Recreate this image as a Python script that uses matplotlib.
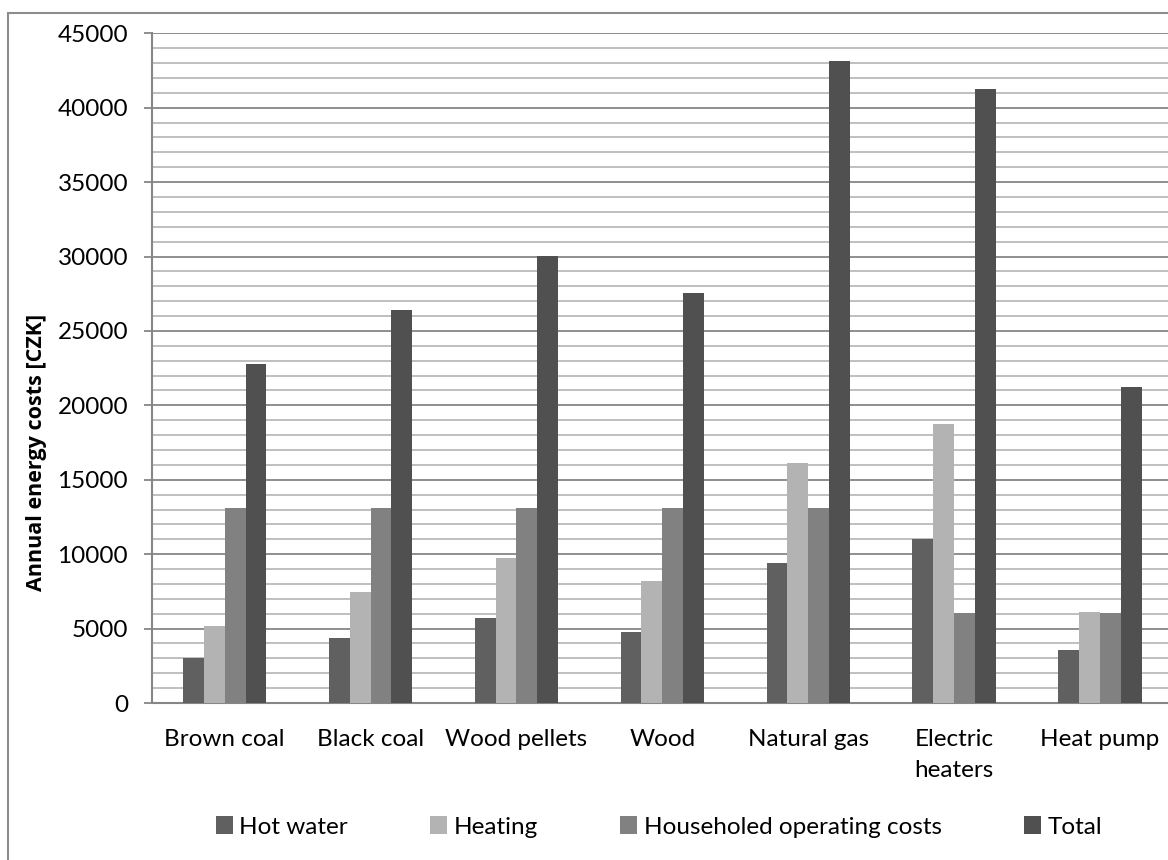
import numpy as np
import matplotlib
matplotlib.use('Agg')
import matplotlib.pyplot as plt
from matplotlib.patches import Patch, Rectangle

plt.rcParams['font.family'] = ['Lato', 'DejaVu Sans']

# Annual energy costs per heating source [CZK]
sources = ['Brown coal', 'Black coal', 'Wood pellets', 'Wood', 'Natural gas',
           'Electric\nheaters', 'Heat pump']
hot_water = [3050, 4350, 5710, 4790, 9410, 11000, 3560]
heating = [5180, 7460, 9770, 8200, 16130, 18750, 6110]
operating = [13100, 13100, 13100, 13100, 13100, 6030, 6030]
total = [22780, 26400, 30040, 27550, 43170, 41240, 21240]

series = [
    ('Hot water', hot_water, '#606060'),
    ('Heating', heating, '#b3b3b3'),
    ('Householed operating costs', operating, '#818181'),
    ('Total', total, '#505050'),
]

W, H = 1168, 860
fig = plt.figure(figsize=(W / 100, H / 100), dpi=100)
ax = fig.add_axes([151.7 / W, 1 - 703 / H, (1173 - 151.7) / W, (703 - 33.3) / H])

x = np.arange(len(sources))
bw = 0.143
for i, (name, vals, col) in enumerate(series):
    ax.bar(x + (i - 1.5) * bw, vals, bw, color=col, zorder=3)

ax.set_xlim(-0.5, len(sources) - 0.5)
ax.set_ylim(0, 45000)
ax.set_yticks(np.arange(0, 45001, 5000))
ax.set_yticks(np.arange(0, 45001, 1000), minor=True)
ax.set_xticks(x)
ax.set_xticklabels(sources, linespacing=1.55)

ax.grid(axis='y', which='minor', color='#bababa', lw=1.3, zorder=0)
ax.grid(axis='y', which='major', color='#868686', lw=1.3, zorder=1)

fs = 17.5
ax.tick_params(axis='y', which='major', length=6, width=1.3, color='#868686',
               labelsize=fs, pad=11)
ax.tick_params(axis='y', which='minor', length=0)
ax.tick_params(axis='x', length=0, labelsize=fs, pad=19)

for s in ['top', 'right']:
    ax.spines[s].set_visible(False)
for s in ['left', 'bottom']:
    ax.spines[s].set_color('#868686')
    ax.spines[s].set_linewidth(1.5)

fig.text(37 / W, 1 - 452 / H, 'Annual energy costs [CZK]', rotation=90,
         ha='center', va='center', fontsize=15.5, fontweight='bold',
         family='Open Sans')

# outer chart frame
fig.patches.append(Rectangle((8 / W, -0.1), 1.2, 1.1 - 13 / H, transform=fig.transFigure,
                             fill=False, edgecolor='#8c8c8c', lw=1.5))

handles = [Patch(facecolor=c, label=n) for n, _, c in series]
fig.legend(handles=handles, loc='center', bbox_to_anchor=(659 / W, 1 - 827 / H),
           ncol=4, frameon=False, fontsize=fs, handlelength=0.7, handleheight=0.7,
           handletextpad=0.25, columnspacing=3.4)

fig.savefig('out.png', dpi=100)
